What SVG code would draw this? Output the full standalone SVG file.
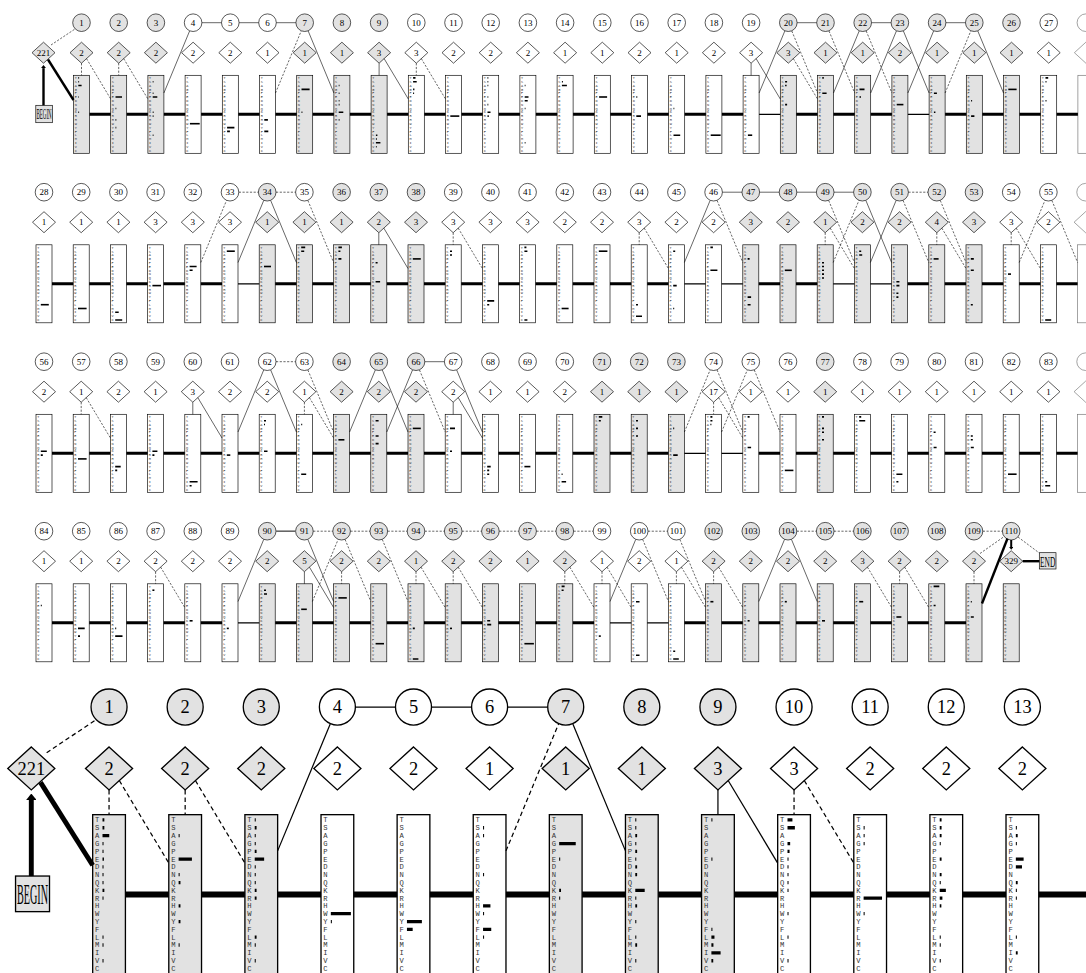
<svg xmlns="http://www.w3.org/2000/svg" width="1086" height="973" viewBox="0 0 1086 973">
<style>
.w{fill:#fff;stroke:#000;stroke-width:.65}
.g{fill:#e2e2e2;stroke:#000;stroke-width:.65}
.n{font-family:"Liberation Serif",serif;font-size:9px;text-anchor:middle;fill:#000}
.lb{font-family:"Liberation Serif",serif;font-size:14px;text-anchor:middle;fill:#000}
.aa{font-family:"Liberation Mono",monospace;font-size:3.5px;fill:#333;writing-mode:vertical-lr;text-orientation:upright}
.br{stroke:#000;stroke-width:1.6;fill:none}
.mm{stroke:#000;stroke-width:3;fill:none}
.mt{stroke:#000;stroke-width:1.3;fill:none}
.s{stroke:#000;stroke-width:.6;fill:none}
.d{stroke:#000;stroke-width:.6;fill:none;stroke-dasharray:2.2 1.5}
.tk{stroke:#000;stroke-width:2.4;fill:none}
.fade{opacity:.55}
</style>
<defs>
<marker id="ah" viewBox="0 0 10 10" refX="0" refY="5" markerWidth="1.3" markerHeight="2.1" orient="auto" preserveAspectRatio="none"><path d="M0 0 10 5 0 10Z"/></marker>
</defs>
<rect width="1086" height="973" fill="#fff"/>
<g id="nodes">
<g id="row1">
<g id="BEGIN"><rect class="g" x="35.8" y="105.3" width="16.6" height="17.4"/><text class="lb" x="44.1" y="119" textLength="15.2" lengthAdjust="spacingAndGlyphs">BEGIN</text></g>
<g id="I0"><path class="g" d="M43.5 42.2 55 52.7 43.5 63.2 32 52.7Z"/><text class="n" x="43.5" y="55.8">221</text></g>
<g transform="translate(81.5)"><g id="D1"><circle class="g" cy="22.7" r="8.8"/><text class="n" y="25.8">1</text></g><g id="I1"><path class="g" d="M0 42.2 11.5 52.7 0 63.2-11.5 52.7Z"/><text class="n" y="55.8">2</text></g><g id="M1"><rect class="g" x="-8" y="75.3" width="16" height="78"/><text class="aa" x="-5.8" y="76.2" textLength="76.4">TSAGPEDNQKRHWYFLMIVC</text><path class="br" d="M-3.2 77.9h.8M-3.2 81.7h.8M-3.2 85.5h3.3M-3.2 97h.6M-3.2 112.3h.8"/></g></g>
<g transform="translate(118.7)"><g id="D2"><circle class="g" cy="22.7" r="8.8"/><text class="n" y="25.8">2</text></g><g id="I2"><path class="g" d="M0 42.2 11.5 52.7 0 63.2-11.5 52.7Z"/><text class="n" y="55.8">2</text></g><g id="M2"><rect class="g" x="-8" y="75.3" width="16" height="78"/><text class="aa" x="-5.8" y="76.2" textLength="76.4">TSAGPEDNQKRHWYFLMIVC</text><path class="br" d="M-3.2 97h6.5M-3.2 108.5h.8M-3.2 119.9h.8M-3.2 127.6h.8"/></g></g>
<g transform="translate(155.9)"><g id="D3"><circle class="g" cy="22.7" r="8.8"/><text class="n" y="25.8">3</text></g><g id="I3"><path class="g" d="M0 42.2 11.5 52.7 0 63.2-11.5 52.7Z"/><text class="n" y="55.8">2</text></g><g id="M3"><rect class="g" x="-8" y="75.3" width="16" height="78"/><text class="aa" x="-5.8" y="76.2" textLength="76.4">TSAGPEDNQKRHWYFLMIVC</text><path class="br" d="M-3.2 81.7h.8M-3.2 93.2h.8M-3.2 97h4.6M-3.2 112.3h.9M-3.2 116.1h.8M-3.2 135.2h.8"/></g></g>
<g transform="translate(193.1)"><g id="D4"><circle class="w" cy="22.7" r="8.8"/><text class="n" y="25.8">4</text></g><g id="I4"><path class="w" d="M0 42.2 11.5 52.7 0 63.2-11.5 52.7Z"/><text class="n" y="55.8">2</text></g><g id="M4"><rect class="w" x="-8" y="75.3" width="16" height="78"/><text class="aa" x="-5.8" y="76.2" textLength="76.4">TSAGPEDNQKRHWYFLMIVC</text><path class="br" d="M-3.2 123.7h9.8"/></g></g>
<g transform="translate(230.3)"><g id="D5"><circle class="w" cy="22.7" r="8.8"/><text class="n" y="25.8">5</text></g><g id="I5"><path class="w" d="M0 42.2 11.5 52.7 0 63.2-11.5 52.7Z"/><text class="n" y="55.8">2</text></g><g id="M5"><rect class="w" x="-8" y="75.3" width="16" height="78"/><text class="aa" x="-5.8" y="76.2" textLength="76.4">TSAGPEDNQKRHWYFLMIVC</text><path class="br" d="M-3.2 127.6h7.3M-3.2 131.4h2.8"/></g></g>
<g transform="translate(267.5)"><g id="D6"><circle class="w" cy="22.7" r="8.8"/><text class="n" y="25.8">6</text></g><g id="I6"><path class="w" d="M0 42.2 11.5 52.7 0 63.2-11.5 52.7Z"/><text class="n" y="55.8">1</text></g><g id="M6"><rect class="w" x="-8" y="75.3" width="16" height="78"/><text class="aa" x="-5.8" y="76.2" textLength="76.4">TSAGPEDNQKRHWYFLMIVC</text><path class="br" d="M-3.2 119.9h3.6M-3.2 131.4h4"/></g></g>
<g transform="translate(304.7)"><g id="D7"><circle class="g" cy="22.7" r="8.8"/><text class="n" y="25.8">7</text></g><g id="I7"><path class="g" d="M0 42.2 11.5 52.7 0 63.2-11.5 52.7Z"/><text class="n" y="55.8">1</text></g><g id="M7"><rect class="g" x="-8" y="75.3" width="16" height="78"/><text class="aa" x="-5.8" y="76.2" textLength="76.4">TSAGPEDNQKRHWYFLMIVC</text><path class="br" d="M-3.2 89.4h8.1M-3.2 112.3h.9"/></g></g>
<g transform="translate(341.9)"><g id="D8"><circle class="g" cy="22.7" r="8.8"/><text class="n" y="25.8">8</text></g><g id="I8"><path class="g" d="M0 42.2 11.5 52.7 0 63.2-11.5 52.7Z"/><text class="n" y="55.8">1</text></g><g id="M8"><rect class="g" x="-8" y="75.3" width="16" height="78"/><text class="aa" x="-5.8" y="76.2" textLength="76.4">TSAGPEDNQKRHWYFLMIVC</text><path class="br" d="M-3.2 85.5h.8M-3.2 93.2h.8M-3.2 100.8h.8M-3.2 104.6h.8M-3.2 112.3h4.6M-3.2 119.9h.8"/></g></g>
<g transform="translate(379.1)"><g id="D9"><circle class="g" cy="22.7" r="8.8"/><text class="n" y="25.8">9</text></g><g id="I9"><path class="g" d="M0 42.2 11.5 52.7 0 63.2-11.5 52.7Z"/><text class="n" y="55.8">3</text></g><g id="M9"><rect class="g" x="-8" y="75.3" width="16" height="78"/><text class="aa" x="-5.8" y="76.2" textLength="76.4">TSAGPEDNQKRHWYFLMIVC</text><path class="br" d="M-3.2 135.2h1.5M-3.2 139h1M-3.2 142.8h4.5M-3.2 146.7h.8"/></g></g>
<g transform="translate(416.3)"><g id="D10"><circle class="w" cy="22.7" r="8.8"/><text class="n" y="25.8">10</text></g><g id="I10"><path class="w" d="M0 42.2 11.5 52.7 0 63.2-11.5 52.7Z"/><text class="n" y="55.8">3</text></g><g id="M10"><rect class="w" x="-8" y="75.3" width="16" height="78"/><text class="aa" x="-5.8" y="76.2" textLength="76.4">TSAGPEDNQKRHWYFLMIVC</text><path class="br" d="M-3.2 77.9h2.4M-3.2 81.7h3.6M-3.2 89.4h1.3M-3.2 93.2h1"/></g></g>
<g transform="translate(453.5)"><g id="D11"><circle class="w" cy="22.7" r="8.8"/><text class="n" y="25.8">11</text></g><g id="I11"><path class="w" d="M0 42.2 11.5 52.7 0 63.2-11.5 52.7Z"/><text class="n" y="55.8">2</text></g><g id="M11"><rect class="w" x="-8" y="75.3" width="16" height="78"/><text class="aa" x="-5.8" y="76.2" textLength="76.4">TSAGPEDNQKRHWYFLMIVC</text><path class="br" d="M-3.2 116.1h9"/></g></g>
<g transform="translate(490.7)"><g id="D12"><circle class="w" cy="22.7" r="8.8"/><text class="n" y="25.8">12</text></g><g id="I12"><path class="w" d="M0 42.2 11.5 52.7 0 63.2-11.5 52.7Z"/><text class="n" y="55.8">2</text></g><g id="M12"><rect class="w" x="-8" y="75.3" width="16" height="78"/><text class="aa" x="-5.8" y="76.2" textLength="76.4">TSAGPEDNQKRHWYFLMIVC</text><path class="br" d="M-3.2 77.9h.8M-3.2 81.7h.8M-3.2 85.5h.8M-3.2 97h.8M-3.2 104.6h.8M-3.2 112.3h3M-3.2 116.1h1.3"/></g></g>
<g transform="translate(527.9)"><g id="D13"><circle class="w" cy="22.7" r="8.8"/><text class="n" y="25.8">13</text></g><g id="I13"><path class="w" d="M0 42.2 11.5 52.7 0 63.2-11.5 52.7Z"/><text class="n" y="55.8">2</text></g><g id="M13"><rect class="w" x="-8" y="75.3" width="16" height="78"/><text class="aa" x="-5.8" y="76.2" textLength="76.4">TSAGPEDNQKRHWYFLMIVC</text><path class="br" d="M-3.2 85.5h.8M-3.2 97h3.8M-3.2 100.8h3M-3.2 108.5h.8M-3.2 142.8h.8"/></g></g>
<g transform="translate(565.1)"><g id="D14"><circle class="w" cy="22.7" r="8.8"/><text class="n" y="25.8">14</text></g><g id="I14"><path class="w" d="M0 42.2 11.5 52.7 0 63.2-11.5 52.7Z"/><text class="n" y="55.8">1</text></g><g id="M14"><rect class="w" x="-8" y="75.3" width="16" height="78"/><text class="aa" x="-5.8" y="76.2" textLength="76.4">TSAGPEDNQKRHWYFLMIVC</text><path class="br" d="M-3.2 81.7h1M-3.2 85.5h5"/></g></g>
<g transform="translate(602.3)"><g id="D15"><circle class="w" cy="22.7" r="8.8"/><text class="n" y="25.8">15</text></g><g id="I15"><path class="w" d="M0 42.2 11.5 52.7 0 63.2-11.5 52.7Z"/><text class="n" y="55.8">1</text></g><g id="M15"><rect class="w" x="-8" y="75.3" width="16" height="78"/><text class="aa" x="-5.8" y="76.2" textLength="76.4">TSAGPEDNQKRHWYFLMIVC</text><path class="br" d="M-3.2 97h8"/></g></g>
<g transform="translate(639.5)"><g id="D16"><circle class="w" cy="22.7" r="8.8"/><text class="n" y="25.8">16</text></g><g id="I16"><path class="w" d="M0 42.2 11.5 52.7 0 63.2-11.5 52.7Z"/><text class="n" y="55.8">2</text></g><g id="M16"><rect class="w" x="-8" y="75.3" width="16" height="78"/><text class="aa" x="-5.8" y="76.2" textLength="76.4">TSAGPEDNQKRHWYFLMIVC</text><path class="br" d="M-3.2 97h1M-3.2 116.1h4.7"/></g></g>
<g transform="translate(676.7)"><g id="D17"><circle class="w" cy="22.7" r="8.8"/><text class="n" y="25.8">17</text></g><g id="I17"><path class="w" d="M0 42.2 11.5 52.7 0 63.2-11.5 52.7Z"/><text class="n" y="55.8">1</text></g><g id="M17"><rect class="w" x="-8" y="75.3" width="16" height="78"/><text class="aa" x="-5.8" y="76.2" textLength="76.4">TSAGPEDNQKRHWYFLMIVC</text><path class="br" d="M-3.2 108.5h.8M-3.2 135.2h6.7"/></g></g>
<g transform="translate(713.9)"><g id="D18"><circle class="w" cy="22.7" r="8.8"/><text class="n" y="25.8">18</text></g><g id="I18"><path class="w" d="M0 42.2 11.5 52.7 0 63.2-11.5 52.7Z"/><text class="n" y="55.8">2</text></g><g id="M18"><rect class="w" x="-8" y="75.3" width="16" height="78"/><text class="aa" x="-5.8" y="76.2" textLength="76.4">TSAGPEDNQKRHWYFLMIVC</text><path class="br" d="M-3.2 135.2h10"/></g></g>
<g transform="translate(751.1)"><g id="D19"><circle class="w" cy="22.7" r="8.8"/><text class="n" y="25.8">19</text></g><g id="I19"><path class="w" d="M0 42.2 11.5 52.7 0 63.2-11.5 52.7Z"/><text class="n" y="55.8">3</text></g><g id="M19"><rect class="w" x="-8" y="75.3" width="16" height="78"/><text class="aa" x="-5.8" y="76.2" textLength="76.4">TSAGPEDNQKRHWYFLMIVC</text><path class="br" d="M-3.2 135.2h4.3"/></g></g>
<g transform="translate(788.3)"><g id="D20"><circle class="g" cy="22.7" r="8.8"/><text class="n" y="25.8">20</text></g><g id="I20"><path class="g" d="M0 42.2 11.5 52.7 0 63.2-11.5 52.7Z"/><text class="n" y="55.8">3</text></g><g id="M20"><rect class="g" x="-8" y="75.3" width="16" height="78"/><text class="aa" x="-5.8" y="76.2" textLength="76.4">TSAGPEDNQKRHWYFLMIVC</text><path class="br" d="M-3.2 81.7h2M-3.2 85.5h1.5M-3.2 104.6h2"/></g></g>
<g transform="translate(825.5)"><g id="D21"><circle class="g" cy="22.7" r="8.8"/><text class="n" y="25.8">21</text></g><g id="I21"><path class="g" d="M0 42.2 11.5 52.7 0 63.2-11.5 52.7Z"/><text class="n" y="55.8">1</text></g><g id="M21"><rect class="g" x="-8" y="75.3" width="16" height="78"/><text class="aa" x="-5.8" y="76.2" textLength="76.4">TSAGPEDNQKRHWYFLMIVC</text><path class="br" d="M-3.2 77.9h1.5M-3.2 93.2h4.3"/></g></g>
<g transform="translate(862.7)"><g id="D22"><circle class="g" cy="22.7" r="8.8"/><text class="n" y="25.8">22</text></g><g id="I22"><path class="g" d="M0 42.2 11.5 52.7 0 63.2-11.5 52.7Z"/><text class="n" y="55.8">1</text></g><g id="M22"><rect class="g" x="-8" y="75.3" width="16" height="78"/><text class="aa" x="-5.8" y="76.2" textLength="76.4">TSAGPEDNQKRHWYFLMIVC</text><path class="br" d="M-3.2 89.4h5M-3.2 97h1.5"/></g></g>
<g transform="translate(899.9)"><g id="D23"><circle class="g" cy="22.7" r="8.8"/><text class="n" y="25.8">23</text></g><g id="I23"><path class="g" d="M0 42.2 11.5 52.7 0 63.2-11.5 52.7Z"/><text class="n" y="55.8">2</text></g><g id="M23"><rect class="g" x="-8" y="75.3" width="16" height="78"/><text class="aa" x="-5.8" y="76.2" textLength="76.4">TSAGPEDNQKRHWYFLMIVC</text><path class="br" d="M-3.2 104.6h6.7"/></g></g>
<g transform="translate(937.1)"><g id="D24"><circle class="g" cy="22.7" r="8.8"/><text class="n" y="25.8">24</text></g><g id="I24"><path class="g" d="M0 42.2 11.5 52.7 0 63.2-11.5 52.7Z"/><text class="n" y="55.8">1</text></g><g id="M24"><rect class="g" x="-8" y="75.3" width="16" height="78"/><text class="aa" x="-5.8" y="76.2" textLength="76.4">TSAGPEDNQKRHWYFLMIVC</text><path class="br" d="M-3.2 93.2h3M-3.2 112.3h1.5"/></g></g>
<g transform="translate(974.3)"><g id="D25"><circle class="g" cy="22.7" r="8.8"/><text class="n" y="25.8">25</text></g><g id="I25"><path class="g" d="M0 42.2 11.5 52.7 0 63.2-11.5 52.7Z"/><text class="n" y="55.8">1</text></g><g id="M25"><rect class="g" x="-8" y="75.3" width="16" height="78"/><text class="aa" x="-5.8" y="76.2" textLength="76.4">TSAGPEDNQKRHWYFLMIVC</text><path class="br" d="M-3.2 100.8h1M-3.2 116.1h3.3"/></g></g>
<g transform="translate(1011.5)"><g id="D26"><circle class="g" cy="22.7" r="8.8"/><text class="n" y="25.8">26</text></g><g id="I26"><path class="g" d="M0 42.2 11.5 52.7 0 63.2-11.5 52.7Z"/><text class="n" y="55.8">1</text></g><g id="M26"><rect class="g" x="-8" y="75.3" width="16" height="78"/><text class="aa" x="-5.8" y="76.2" textLength="76.4">TSAGPEDNQKRHWYFLMIVC</text><path class="br" d="M-3.2 89.4h8.3"/></g></g>
<g transform="translate(1048.7)"><g id="D27"><circle class="w" cy="22.7" r="8.8"/><text class="n" y="25.8">27</text></g><g id="I27"><path class="w" d="M0 42.2 11.5 52.7 0 63.2-11.5 52.7Z"/><text class="n" y="55.8">1</text></g><g id="M27"><rect class="w" x="-8" y="75.3" width="16" height="78"/><text class="aa" x="-5.8" y="76.2" textLength="76.4">TSAGPEDNQKRHWYFLMIVC</text><path class="br" d="M-3.2 77.9h2.7M-3.2 81.7h1M-3.2 100.8h1"/></g></g>
<g class="fade" transform="translate(1085.9)"><g id="D28a"><circle class="w" cy="22.7" r="8.8"/></g><g id="I28a"><path class="w" d="M0 42.2 11.5 52.7 0 63.2-11.5 52.7Z"/></g><g id="M28a"><rect class="w" x="-8" y="75.3" width="16" height="78"/></g></g>
</g>
<g id="row2" transform="translate(0,169.5)">
<g transform="translate(44)"><g id="D28"><circle class="w" cy="22.7" r="8.8"/><text class="n" y="25.8">28</text></g><g id="I28"><path class="w" d="M0 42.2 11.5 52.7 0 63.2-11.5 52.7Z"/><text class="n" y="55.8">1</text></g><g id="M28"><rect class="w" x="-8" y="75.3" width="16" height="78"/><text class="aa" x="-5.8" y="76.2" textLength="76.4">TSAGPEDNQKRHWYFLMIVC</text><path class="br" d="M-3.2 135.2h8"/></g></g>
<g transform="translate(81.2)"><g id="D29"><circle class="w" cy="22.7" r="8.8"/><text class="n" y="25.8">29</text></g><g id="I29"><path class="w" d="M0 42.2 11.5 52.7 0 63.2-11.5 52.7Z"/><text class="n" y="55.8">1</text></g><g id="M29"><rect class="w" x="-8" y="75.3" width="16" height="78"/><text class="aa" x="-5.8" y="76.2" textLength="76.4">TSAGPEDNQKRHWYFLMIVC</text><path class="br" d="M-3.2 139h8.6"/></g></g>
<g transform="translate(118.4)"><g id="D30"><circle class="w" cy="22.7" r="8.8"/><text class="n" y="25.8">30</text></g><g id="I30"><path class="w" d="M0 42.2 11.5 52.7 0 63.2-11.5 52.7Z"/><text class="n" y="55.8">1</text></g><g id="M30"><rect class="w" x="-8" y="75.3" width="16" height="78"/><text class="aa" x="-5.8" y="76.2" textLength="76.4">TSAGPEDNQKRHWYFLMIVC</text><path class="br" d="M-3.2 142.8h3.5M-3.2 150.5h7"/></g></g>
<g transform="translate(155.6)"><g id="D31"><circle class="w" cy="22.7" r="8.8"/><text class="n" y="25.8">31</text></g><g id="I31"><path class="w" d="M0 42.2 11.5 52.7 0 63.2-11.5 52.7Z"/><text class="n" y="55.8">3</text></g><g id="M31"><rect class="w" x="-8" y="75.3" width="16" height="78"/><text class="aa" x="-5.8" y="76.2" textLength="76.4">TSAGPEDNQKRHWYFLMIVC</text><path class="br" d="M-3.2 116.1h8.6"/></g></g>
<g transform="translate(192.8)"><g id="D32"><circle class="w" cy="22.7" r="8.8"/><text class="n" y="25.8">32</text></g><g id="I32"><path class="w" d="M0 42.2 11.5 52.7 0 63.2-11.5 52.7Z"/><text class="n" y="55.8">3</text></g><g id="M32"><rect class="w" x="-8" y="75.3" width="16" height="78"/><text class="aa" x="-5.8" y="76.2" textLength="76.4">TSAGPEDNQKRHWYFLMIVC</text><path class="br" d="M-3.2 97h7M-3.2 100.8h3"/></g></g>
<g transform="translate(230)"><g id="D33"><circle class="w" cy="22.7" r="8.8"/><text class="n" y="25.8">33</text></g><g id="I33"><path class="w" d="M0 42.2 11.5 52.7 0 63.2-11.5 52.7Z"/><text class="n" y="55.8">3</text></g><g id="M33"><rect class="w" x="-8" y="75.3" width="16" height="78"/><text class="aa" x="-5.8" y="76.2" textLength="76.4">TSAGPEDNQKRHWYFLMIVC</text><path class="br" d="M-3.2 81.7h8"/></g></g>
<g transform="translate(267.2)"><g id="D34"><circle class="g" cy="22.7" r="8.8"/><text class="n" y="25.8">34</text></g><g id="I34"><path class="g" d="M0 42.2 11.5 52.7 0 63.2-11.5 52.7Z"/><text class="n" y="55.8">1</text></g><g id="M34"><rect class="g" x="-8" y="75.3" width="16" height="78"/><text class="aa" x="-5.8" y="76.2" textLength="76.4">TSAGPEDNQKRHWYFLMIVC</text><path class="br" d="M-3.2 97h7"/></g></g>
<g transform="translate(304.4)"><g id="D35"><circle class="w" cy="22.7" r="8.8"/><text class="n" y="25.8">35</text></g><g id="I35"><path class="g" d="M0 42.2 11.5 52.7 0 63.2-11.5 52.7Z"/><text class="n" y="55.8">1</text></g><g id="M35"><rect class="g" x="-8" y="75.3" width="16" height="78"/><text class="aa" x="-5.8" y="76.2" textLength="76.4">TSAGPEDNQKRHWYFLMIVC</text><path class="br" d="M-3.2 77.9h4M-3.2 81.7h3"/></g></g>
<g transform="translate(341.6)"><g id="D36"><circle class="g" cy="22.7" r="8.8"/><text class="n" y="25.8">36</text></g><g id="I36"><path class="g" d="M0 42.2 11.5 52.7 0 63.2-11.5 52.7Z"/><text class="n" y="55.8">1</text></g><g id="M36"><rect class="g" x="-8" y="75.3" width="16" height="78"/><text class="aa" x="-5.8" y="76.2" textLength="76.4">TSAGPEDNQKRHWYFLMIVC</text><path class="br" d="M-3.2 77.9h3.5M-3.2 81.7h2M-3.2 89.4h3"/></g></g>
<g transform="translate(378.8)"><g id="D37"><circle class="g" cy="22.7" r="8.8"/><text class="n" y="25.8">37</text></g><g id="I37"><path class="g" d="M0 42.2 11.5 52.7 0 63.2-11.5 52.7Z"/><text class="n" y="55.8">2</text></g><g id="M37"><rect class="g" x="-8" y="75.3" width="16" height="78"/><text class="aa" x="-5.8" y="76.2" textLength="76.4">TSAGPEDNQKRHWYFLMIVC</text><path class="br" d="M-3.2 93.2h2M-3.2 112.3h4.5"/></g></g>
<g transform="translate(416)"><g id="D38"><circle class="g" cy="22.7" r="8.8"/><text class="n" y="25.8">38</text></g><g id="I38"><path class="g" d="M0 42.2 11.5 52.7 0 63.2-11.5 52.7Z"/><text class="n" y="55.8">3</text></g><g id="M38"><rect class="g" x="-8" y="75.3" width="16" height="78"/><text class="aa" x="-5.8" y="76.2" textLength="76.4">TSAGPEDNQKRHWYFLMIVC</text><path class="br" d="M-3.2 89.4h8"/></g></g>
<g transform="translate(453.2)"><g id="D39"><circle class="w" cy="22.7" r="8.8"/><text class="n" y="25.8">39</text></g><g id="I39"><path class="w" d="M0 42.2 11.5 52.7 0 63.2-11.5 52.7Z"/><text class="n" y="55.8">3</text></g><g id="M39"><rect class="w" x="-8" y="75.3" width="16" height="78"/><text class="aa" x="-5.8" y="76.2" textLength="76.4">TSAGPEDNQKRHWYFLMIVC</text><path class="br" d="M-3.2 81.7h2M-3.2 85.5h2"/></g></g>
<g transform="translate(490.4)"><g id="D40"><circle class="w" cy="22.7" r="8.8"/><text class="n" y="25.8">40</text></g><g id="I40"><path class="w" d="M0 42.2 11.5 52.7 0 63.2-11.5 52.7Z"/><text class="n" y="55.8">3</text></g><g id="M40"><rect class="w" x="-8" y="75.3" width="16" height="78"/><text class="aa" x="-5.8" y="76.2" textLength="76.4">TSAGPEDNQKRHWYFLMIVC</text><path class="br" d="M-3.2 131.4h7M-3.2 135.2h2"/></g></g>
<g transform="translate(527.6)"><g id="D41"><circle class="w" cy="22.7" r="8.8"/><text class="n" y="25.8">41</text></g><g id="I41"><path class="w" d="M0 42.2 11.5 52.7 0 63.2-11.5 52.7Z"/><text class="n" y="55.8">3</text></g><g id="M41"><rect class="w" x="-8" y="75.3" width="16" height="78"/><text class="aa" x="-5.8" y="76.2" textLength="76.4">TSAGPEDNQKRHWYFLMIVC</text><path class="br" d="M-3.2 77.9h2M-3.2 81.7h3M-3.2 150.5h3"/></g></g>
<g transform="translate(564.8)"><g id="D42"><circle class="w" cy="22.7" r="8.8"/><text class="n" y="25.8">42</text></g><g id="I42"><path class="w" d="M0 42.2 11.5 52.7 0 63.2-11.5 52.7Z"/><text class="n" y="55.8">2</text></g><g id="M42"><rect class="w" x="-8" y="75.3" width="16" height="78"/><text class="aa" x="-5.8" y="76.2" textLength="76.4">TSAGPEDNQKRHWYFLMIVC</text><path class="br" d="M-3.2 139h7"/></g></g>
<g transform="translate(602)"><g id="D43"><circle class="w" cy="22.7" r="8.8"/><text class="n" y="25.8">43</text></g><g id="I43"><path class="w" d="M0 42.2 11.5 52.7 0 63.2-11.5 52.7Z"/><text class="n" y="55.8">2</text></g><g id="M43"><rect class="w" x="-8" y="75.3" width="16" height="78"/><text class="aa" x="-5.8" y="76.2" textLength="76.4">TSAGPEDNQKRHWYFLMIVC</text><path class="br" d="M-3.2 81.7h8.6"/></g></g>
<g transform="translate(639.2)"><g id="D44"><circle class="w" cy="22.7" r="8.8"/><text class="n" y="25.8">44</text></g><g id="I44"><path class="w" d="M0 42.2 11.5 52.7 0 63.2-11.5 52.7Z"/><text class="n" y="55.8">3</text></g><g id="M44"><rect class="w" x="-8" y="75.3" width="16" height="78"/><text class="aa" x="-5.8" y="76.2" textLength="76.4">TSAGPEDNQKRHWYFLMIVC</text><path class="br" d="M-3.2 135.2h2M-3.2 146.7h6"/></g></g>
<g transform="translate(676.4)"><g id="D45"><circle class="w" cy="22.7" r="8.8"/><text class="n" y="25.8">45</text></g><g id="I45"><path class="w" d="M0 42.2 11.5 52.7 0 63.2-11.5 52.7Z"/><text class="n" y="55.8">2</text></g><g id="M45"><rect class="w" x="-8" y="75.3" width="16" height="78"/><text class="aa" x="-5.8" y="76.2" textLength="76.4">TSAGPEDNQKRHWYFLMIVC</text><path class="br" d="M-3.2 81.7h2M-3.2 116.1h3.5M-3.2 139h1"/></g></g>
<g transform="translate(713.6)"><g id="D46"><circle class="w" cy="22.7" r="8.8"/><text class="n" y="25.8">46</text></g><g id="I46"><path class="w" d="M0 42.2 11.5 52.7 0 63.2-11.5 52.7Z"/><text class="n" y="55.8">2</text></g><g id="M46"><rect class="w" x="-8" y="75.3" width="16" height="78"/><text class="aa" x="-5.8" y="76.2" textLength="76.4">TSAGPEDNQKRHWYFLMIVC</text><path class="br" d="M-3.2 77.9h2.5M-3.2 100.8h7"/></g></g>
<g transform="translate(750.8)"><g id="D47"><circle class="g" cy="22.7" r="8.8"/><text class="n" y="25.8">47</text></g><g id="I47"><path class="g" d="M0 42.2 11.5 52.7 0 63.2-11.5 52.7Z"/><text class="n" y="55.8">3</text></g><g id="M47"><rect class="g" x="-8" y="75.3" width="16" height="78"/><text class="aa" x="-5.8" y="76.2" textLength="76.4">TSAGPEDNQKRHWYFLMIVC</text><path class="br" d="M-3.2 89.4h2M-3.2 127.6h3.5M-3.2 135.2h3"/></g></g>
<g transform="translate(788)"><g id="D48"><circle class="g" cy="22.7" r="8.8"/><text class="n" y="25.8">48</text></g><g id="I48"><path class="g" d="M0 42.2 11.5 52.7 0 63.2-11.5 52.7Z"/><text class="n" y="55.8">2</text></g><g id="M48"><rect class="g" x="-8" y="75.3" width="16" height="78"/><text class="aa" x="-5.8" y="76.2" textLength="76.4">TSAGPEDNQKRHWYFLMIVC</text><path class="br" d="M-3.2 100.8h7"/></g></g>
<g transform="translate(825.2)"><g id="D49"><circle class="g" cy="22.7" r="8.8"/><text class="n" y="25.8">49</text></g><g id="I49"><path class="g" d="M0 42.2 11.5 52.7 0 63.2-11.5 52.7Z"/><text class="n" y="55.8">1</text></g><g id="M49"><rect class="g" x="-8" y="75.3" width="16" height="78"/><text class="aa" x="-5.8" y="76.2" textLength="76.4">TSAGPEDNQKRHWYFLMIVC</text><path class="br" d="M-3.2 93.2h2M-3.2 97h2M-3.2 100.8h2M-3.2 104.6h2M-3.2 108.5h2"/></g></g>
<g transform="translate(862.4)"><g id="D50"><circle class="g" cy="22.7" r="8.8"/><text class="n" y="25.8">50</text></g><g id="I50"><path class="g" d="M0 42.2 11.5 52.7 0 63.2-11.5 52.7Z"/><text class="n" y="55.8">2</text></g><g id="M50"><rect class="g" x="-8" y="75.3" width="16" height="78"/><text class="aa" x="-5.8" y="76.2" textLength="76.4">TSAGPEDNQKRHWYFLMIVC</text><path class="br" d="M-3.2 81.7h2M-3.2 85.5h3"/></g></g>
<g transform="translate(899.6)"><g id="D51"><circle class="g" cy="22.7" r="8.8"/><text class="n" y="25.8">51</text></g><g id="I51"><path class="g" d="M0 42.2 11.5 52.7 0 63.2-11.5 52.7Z"/><text class="n" y="55.8">2</text></g><g id="M51"><rect class="g" x="-8" y="75.3" width="16" height="78"/><text class="aa" x="-5.8" y="76.2" textLength="76.4">TSAGPEDNQKRHWYFLMIVC</text><path class="br" d="M-3.2 112.3h3M-3.2 116.1h3M-3.2 123.7h2M-3.2 127.6h2"/></g></g>
<g transform="translate(936.8)"><g id="D52"><circle class="g" cy="22.7" r="8.8"/><text class="n" y="25.8">52</text></g><g id="I52"><path class="g" d="M0 42.2 11.5 52.7 0 63.2-11.5 52.7Z"/><text class="n" y="55.8">4</text></g><g id="M52"><rect class="g" x="-8" y="75.3" width="16" height="78"/><text class="aa" x="-5.8" y="76.2" textLength="76.4">TSAGPEDNQKRHWYFLMIVC</text><path class="br" d="M-3.2 89.4h5"/></g></g>
<g transform="translate(974)"><g id="D53"><circle class="g" cy="22.7" r="8.8"/><text class="n" y="25.8">53</text></g><g id="I53"><path class="g" d="M0 42.2 11.5 52.7 0 63.2-11.5 52.7Z"/><text class="n" y="55.8">3</text></g><g id="M53"><rect class="g" x="-8" y="75.3" width="16" height="78"/><text class="aa" x="-5.8" y="76.2" textLength="76.4">TSAGPEDNQKRHWYFLMIVC</text><path class="br" d="M-3.2 89.4h3M-3.2 100.8h3M-3.2 135.2h2"/></g></g>
<g transform="translate(1011.2)"><g id="D54"><circle class="w" cy="22.7" r="8.8"/><text class="n" y="25.8">54</text></g><g id="I54"><path class="w" d="M0 42.2 11.5 52.7 0 63.2-11.5 52.7Z"/><text class="n" y="55.8">3</text></g><g id="M54"><rect class="w" x="-8" y="75.3" width="16" height="78"/><text class="aa" x="-5.8" y="76.2" textLength="76.4">TSAGPEDNQKRHWYFLMIVC</text><path class="br" d="M-3.2 104.6h3"/></g></g>
<g transform="translate(1048.4)"><g id="D55"><circle class="w" cy="22.7" r="8.8"/><text class="n" y="25.8">55</text></g><g id="I55"><path class="w" d="M0 42.2 11.5 52.7 0 63.2-11.5 52.7Z"/><text class="n" y="55.8">2</text></g><g id="M55"><rect class="w" x="-8" y="75.3" width="16" height="78"/><text class="aa" x="-5.8" y="76.2" textLength="76.4">TSAGPEDNQKRHWYFLMIVC</text><path class="br" d="M-3.2 150.5h6"/></g></g>
<g class="fade" transform="translate(1085.6)"><g id="D56a"><circle class="w" cy="22.7" r="8.8"/></g><g id="I56a"><path class="w" d="M0 42.2 11.5 52.7 0 63.2-11.5 52.7Z"/></g><g id="M56a"><rect class="w" x="-8" y="75.3" width="16" height="78"/></g></g>
</g>
<g id="row3" transform="translate(0,339)">
<g transform="translate(44)"><g id="D56"><circle class="w" cy="22.7" r="8.8"/><text class="n" y="25.8">56</text></g><g id="I56"><path class="w" d="M0 42.2 11.5 52.7 0 63.2-11.5 52.7Z"/><text class="n" y="55.8">2</text></g><g id="M56"><rect class="w" x="-8" y="75.3" width="16" height="78"/><text class="aa" x="-5.8" y="76.2" textLength="76.4">TSAGPEDNQKRHWYFLMIVC</text><path class="br" d="M-3.2 112.3h6M-3.2 116.1h2"/></g></g>
<g transform="translate(81.2)"><g id="D57"><circle class="w" cy="22.7" r="8.8"/><text class="n" y="25.8">57</text></g><g id="I57"><path class="w" d="M0 42.2 11.5 52.7 0 63.2-11.5 52.7Z"/><text class="n" y="55.8">1</text></g><g id="M57"><rect class="w" x="-8" y="75.3" width="16" height="78"/><text class="aa" x="-5.8" y="76.2" textLength="76.4">TSAGPEDNQKRHWYFLMIVC</text><path class="br" d="M-3.2 119.9h8.6"/></g></g>
<g transform="translate(118.4)"><g id="D58"><circle class="w" cy="22.7" r="8.8"/><text class="n" y="25.8">58</text></g><g id="I58"><path class="w" d="M0 42.2 11.5 52.7 0 63.2-11.5 52.7Z"/><text class="n" y="55.8">2</text></g><g id="M58"><rect class="w" x="-8" y="75.3" width="16" height="78"/><text class="aa" x="-5.8" y="76.2" textLength="76.4">TSAGPEDNQKRHWYFLMIVC</text><path class="br" d="M-3.2 127.6h5.5M-3.2 131.4h2"/></g></g>
<g transform="translate(155.6)"><g id="D59"><circle class="w" cy="22.7" r="8.8"/><text class="n" y="25.8">59</text></g><g id="I59"><path class="w" d="M0 42.2 11.5 52.7 0 63.2-11.5 52.7Z"/><text class="n" y="55.8">1</text></g><g id="M59"><rect class="w" x="-8" y="75.3" width="16" height="78"/><text class="aa" x="-5.8" y="76.2" textLength="76.4">TSAGPEDNQKRHWYFLMIVC</text><path class="br" d="M-3.2 112.3h5M-3.2 116.1h2"/></g></g>
<g transform="translate(192.8)"><g id="D60"><circle class="w" cy="22.7" r="8.8"/><text class="n" y="25.8">60</text></g><g id="I60"><path class="w" d="M0 42.2 11.5 52.7 0 63.2-11.5 52.7Z"/><text class="n" y="55.8">3</text></g><g id="M60"><rect class="w" x="-8" y="75.3" width="16" height="78"/><text class="aa" x="-5.8" y="76.2" textLength="76.4">TSAGPEDNQKRHWYFLMIVC</text><path class="br" d="M-3.2 142.8h8M-3.2 146.7h2"/></g></g>
<g transform="translate(230)"><g id="D61"><circle class="w" cy="22.7" r="8.8"/><text class="n" y="25.8">61</text></g><g id="I61"><path class="w" d="M0 42.2 11.5 52.7 0 63.2-11.5 52.7Z"/><text class="n" y="55.8">2</text></g><g id="M61"><rect class="w" x="-8" y="75.3" width="16" height="78"/><text class="aa" x="-5.8" y="76.2" textLength="76.4">TSAGPEDNQKRHWYFLMIVC</text><path class="br" d="M-3.2 116.1h3.5"/></g></g>
<g transform="translate(267.2)"><g id="D62"><circle class="w" cy="22.7" r="8.8"/><text class="n" y="25.8">62</text></g><g id="I62"><path class="w" d="M0 42.2 11.5 52.7 0 63.2-11.5 52.7Z"/><text class="n" y="55.8">2</text></g><g id="M62"><rect class="w" x="-8" y="75.3" width="16" height="78"/><text class="aa" x="-5.8" y="76.2" textLength="76.4">TSAGPEDNQKRHWYFLMIVC</text><path class="br" d="M-3.2 81.7h2M-3.2 85.5h1M-3.2 112.3h3.5"/></g></g>
<g transform="translate(304.4)"><g id="D63"><circle class="w" cy="22.7" r="8.8"/><text class="n" y="25.8">63</text></g><g id="I63"><path class="w" d="M0 42.2 11.5 52.7 0 63.2-11.5 52.7Z"/><text class="n" y="55.8">1</text></g><g id="M63"><rect class="w" x="-8" y="75.3" width="16" height="78"/><text class="aa" x="-5.8" y="76.2" textLength="76.4">TSAGPEDNQKRHWYFLMIVC</text><path class="br" d="M-3.2 85.5h1M-3.2 135.2h5"/></g></g>
<g transform="translate(341.6)"><g id="D64"><circle class="g" cy="22.7" r="8.8"/><text class="n" y="25.8">64</text></g><g id="I64"><path class="g" d="M0 42.2 11.5 52.7 0 63.2-11.5 52.7Z"/><text class="n" y="55.8">2</text></g><g id="M64"><rect class="g" x="-8" y="75.3" width="16" height="78"/><text class="aa" x="-5.8" y="76.2" textLength="76.4">TSAGPEDNQKRHWYFLMIVC</text><path class="br" d="M-3.2 100.8h6"/></g></g>
<g transform="translate(378.8)"><g id="D65"><circle class="g" cy="22.7" r="8.8"/><text class="n" y="25.8">65</text></g><g id="I65"><path class="g" d="M0 42.2 11.5 52.7 0 63.2-11.5 52.7Z"/><text class="n" y="55.8">2</text></g><g id="M65"><rect class="g" x="-8" y="75.3" width="16" height="78"/><text class="aa" x="-5.8" y="76.2" textLength="76.4">TSAGPEDNQKRHWYFLMIVC</text><path class="br" d="M-3.2 81.7h3M-3.2 97h3M-3.2 104.6h3"/></g></g>
<g transform="translate(416)"><g id="D66"><circle class="g" cy="22.7" r="8.8"/><text class="n" y="25.8">66</text></g><g id="I66"><path class="g" d="M0 42.2 11.5 52.7 0 63.2-11.5 52.7Z"/><text class="n" y="55.8">2</text></g><g id="M66"><rect class="g" x="-8" y="75.3" width="16" height="78"/><text class="aa" x="-5.8" y="76.2" textLength="76.4">TSAGPEDNQKRHWYFLMIVC</text><path class="br" d="M-3.2 89.4h8"/></g></g>
<g transform="translate(453.2)"><g id="D67"><circle class="w" cy="22.7" r="8.8"/><text class="n" y="25.8">67</text></g><g id="I67"><path class="w" d="M0 42.2 11.5 52.7 0 63.2-11.5 52.7Z"/><text class="n" y="55.8">2</text></g><g id="M67"><rect class="w" x="-8" y="75.3" width="16" height="78"/><text class="aa" x="-5.8" y="76.2" textLength="76.4">TSAGPEDNQKRHWYFLMIVC</text><path class="br" d="M-3.2 89.4h5M-3.2 112.3h2"/></g></g>
<g transform="translate(490.4)"><g id="D68"><circle class="w" cy="22.7" r="8.8"/><text class="n" y="25.8">68</text></g><g id="I68"><path class="w" d="M0 42.2 11.5 52.7 0 63.2-11.5 52.7Z"/><text class="n" y="55.8">1</text></g><g id="M68"><rect class="w" x="-8" y="75.3" width="16" height="78"/><text class="aa" x="-5.8" y="76.2" textLength="76.4">TSAGPEDNQKRHWYFLMIVC</text><path class="br" d="M-3.2 127.6h3.5M-3.2 131.4h2M-3.2 135.2h2"/></g></g>
<g transform="translate(527.6)"><g id="D69"><circle class="w" cy="22.7" r="8.8"/><text class="n" y="25.8">69</text></g><g id="I69"><path class="w" d="M0 42.2 11.5 52.7 0 63.2-11.5 52.7Z"/><text class="n" y="55.8">1</text></g><g id="M69"><rect class="w" x="-8" y="75.3" width="16" height="78"/><text class="aa" x="-5.8" y="76.2" textLength="76.4">TSAGPEDNQKRHWYFLMIVC</text><path class="br" d="M-3.2 127.6h6"/></g></g>
<g transform="translate(564.8)"><g id="D70"><circle class="w" cy="22.7" r="8.8"/><text class="n" y="25.8">70</text></g><g id="I70"><path class="w" d="M0 42.2 11.5 52.7 0 63.2-11.5 52.7Z"/><text class="n" y="55.8">2</text></g><g id="M70"><rect class="w" x="-8" y="75.3" width="16" height="78"/><text class="aa" x="-5.8" y="76.2" textLength="76.4">TSAGPEDNQKRHWYFLMIVC</text><path class="br" d="M-3.2 135.2h1M-3.2 142.8h4.5"/></g></g>
<g transform="translate(602)"><g id="D71"><circle class="g" cy="22.7" r="8.8"/><text class="n" y="25.8">71</text></g><g id="I71"><path class="g" d="M0 42.2 11.5 52.7 0 63.2-11.5 52.7Z"/><text class="n" y="55.8">1</text></g><g id="M71"><rect class="g" x="-8" y="75.3" width="16" height="78"/><text class="aa" x="-5.8" y="76.2" textLength="76.4">TSAGPEDNQKRHWYFLMIVC</text><path class="br" d="M-3.2 77.9h3.5M-3.2 81.7h2"/></g></g>
<g transform="translate(639.2)"><g id="D72"><circle class="g" cy="22.7" r="8.8"/><text class="n" y="25.8">72</text></g><g id="I72"><path class="g" d="M0 42.2 11.5 52.7 0 63.2-11.5 52.7Z"/><text class="n" y="55.8">1</text></g><g id="M72"><rect class="g" x="-8" y="75.3" width="16" height="78"/><text class="aa" x="-5.8" y="76.2" textLength="76.4">TSAGPEDNQKRHWYFLMIVC</text><path class="br" d="M-3.2 81.7h2M-3.2 89.4h2M-3.2 97h2"/></g></g>
<g transform="translate(676.4)"><g id="D73"><circle class="g" cy="22.7" r="8.8"/><text class="n" y="25.8">73</text></g><g id="I73"><path class="g" d="M0 42.2 11.5 52.7 0 63.2-11.5 52.7Z"/><text class="n" y="55.8">1</text></g><g id="M73"><rect class="g" x="-8" y="75.3" width="16" height="78"/><text class="aa" x="-5.8" y="76.2" textLength="76.4">TSAGPEDNQKRHWYFLMIVC</text><path class="br" d="M-3.2 89.4h1M-3.2 116.1h4.5"/></g></g>
<g transform="translate(713.6)"><g id="D74"><circle class="w" cy="22.7" r="8.8"/><text class="n" y="25.8">74</text></g><g id="I74"><path class="w" d="M0 42.2 11.5 52.7 0 63.2-11.5 52.7Z"/><text class="n" y="55.8">17</text></g><g id="M74"><rect class="w" x="-8" y="75.3" width="16" height="78"/><text class="aa" x="-5.8" y="76.2" textLength="76.4">TSAGPEDNQKRHWYFLMIVC</text><path class="br" d="M-3.2 77.9h2M-3.2 81.7h2M-3.2 85.5h1"/></g></g>
<g transform="translate(750.8)"><g id="D75"><circle class="w" cy="22.7" r="8.8"/><text class="n" y="25.8">75</text></g><g id="I75"><path class="w" d="M0 42.2 11.5 52.7 0 63.2-11.5 52.7Z"/><text class="n" y="55.8">1</text></g><g id="M75"><rect class="w" x="-8" y="75.3" width="16" height="78"/><text class="aa" x="-5.8" y="76.2" textLength="76.4">TSAGPEDNQKRHWYFLMIVC</text><path class="br" d="M-3.2 77.9h2M-3.2 108.5h3.5"/></g></g>
<g transform="translate(788)"><g id="D76"><circle class="w" cy="22.7" r="8.8"/><text class="n" y="25.8">76</text></g><g id="I76"><path class="w" d="M0 42.2 11.5 52.7 0 63.2-11.5 52.7Z"/><text class="n" y="55.8">1</text></g><g id="M76"><rect class="w" x="-8" y="75.3" width="16" height="78"/><text class="aa" x="-5.8" y="76.2" textLength="76.4">TSAGPEDNQKRHWYFLMIVC</text><path class="br" d="M-3.2 131.4h8.6"/></g></g>
<g transform="translate(825.2)"><g id="D77"><circle class="g" cy="22.7" r="8.8"/><text class="n" y="25.8">77</text></g><g id="I77"><path class="g" d="M0 42.2 11.5 52.7 0 63.2-11.5 52.7Z"/><text class="n" y="55.8">1</text></g><g id="M77"><rect class="g" x="-8" y="75.3" width="16" height="78"/><text class="aa" x="-5.8" y="76.2" textLength="76.4">TSAGPEDNQKRHWYFLMIVC</text><path class="br" d="M-3.2 77.9h2M-3.2 89.4h2M-3.2 93.2h2M-3.2 100.8h2"/></g></g>
<g transform="translate(862.4)"><g id="D78"><circle class="w" cy="22.7" r="8.8"/><text class="n" y="25.8">78</text></g><g id="I78"><path class="w" d="M0 42.2 11.5 52.7 0 63.2-11.5 52.7Z"/><text class="n" y="55.8">1</text></g><g id="M78"><rect class="w" x="-8" y="75.3" width="16" height="78"/><text class="aa" x="-5.8" y="76.2" textLength="76.4">TSAGPEDNQKRHWYFLMIVC</text><path class="br" d="M-3.2 77.9h2M-3.2 81.7h6"/></g></g>
<g transform="translate(899.6)"><g id="D79"><circle class="w" cy="22.7" r="8.8"/><text class="n" y="25.8">79</text></g><g id="I79"><path class="w" d="M0 42.2 11.5 52.7 0 63.2-11.5 52.7Z"/><text class="n" y="55.8">1</text></g><g id="M79"><rect class="w" x="-8" y="75.3" width="16" height="78"/><text class="aa" x="-5.8" y="76.2" textLength="76.4">TSAGPEDNQKRHWYFLMIVC</text><path class="br" d="M-3.2 135.2h6M-3.2 142.8h2"/></g></g>
<g transform="translate(936.8)"><g id="D80"><circle class="w" cy="22.7" r="8.8"/><text class="n" y="25.8">80</text></g><g id="I80"><path class="w" d="M0 42.2 11.5 52.7 0 63.2-11.5 52.7Z"/><text class="n" y="55.8">1</text></g><g id="M80"><rect class="w" x="-8" y="75.3" width="16" height="78"/><text class="aa" x="-5.8" y="76.2" textLength="76.4">TSAGPEDNQKRHWYFLMIVC</text><path class="br" d="M-3.2 93.2h2M-3.2 108.5h3"/></g></g>
<g transform="translate(974)"><g id="D81"><circle class="w" cy="22.7" r="8.8"/><text class="n" y="25.8">81</text></g><g id="I81"><path class="w" d="M0 42.2 11.5 52.7 0 63.2-11.5 52.7Z"/><text class="n" y="55.8">1</text></g><g id="M81"><rect class="w" x="-8" y="75.3" width="16" height="78"/><text class="aa" x="-5.8" y="76.2" textLength="76.4">TSAGPEDNQKRHWYFLMIVC</text><path class="br" d="M-3.2 97h2M-3.2 100.8h2M-3.2 108.5h3"/></g></g>
<g transform="translate(1011.2)"><g id="D82"><circle class="w" cy="22.7" r="8.8"/><text class="n" y="25.8">82</text></g><g id="I82"><path class="w" d="M0 42.2 11.5 52.7 0 63.2-11.5 52.7Z"/><text class="n" y="55.8">1</text></g><g id="M82"><rect class="w" x="-8" y="75.3" width="16" height="78"/><text class="aa" x="-5.8" y="76.2" textLength="76.4">TSAGPEDNQKRHWYFLMIVC</text><path class="br" d="M-3.2 135.2h8.6"/></g></g>
<g transform="translate(1048.4)"><g id="D83"><circle class="w" cy="22.7" r="8.8"/><text class="n" y="25.8">83</text></g><g id="I83"><path class="w" d="M0 42.2 11.5 52.7 0 63.2-11.5 52.7Z"/><text class="n" y="55.8">1</text></g><g id="M83"><rect class="w" x="-8" y="75.3" width="16" height="78"/><text class="aa" x="-5.8" y="76.2" textLength="76.4">TSAGPEDNQKRHWYFLMIVC</text><path class="br" d="M-3.2 142.8h2M-3.2 146.7h5"/></g></g>
<g class="fade" transform="translate(1085.6)"><g id="D84a"><circle class="w" cy="22.7" r="8.8"/></g><g id="I84a"><path class="w" d="M0 42.2 11.5 52.7 0 63.2-11.5 52.7Z"/></g><g id="M84a"><rect class="w" x="-8" y="75.3" width="16" height="78"/></g></g>
</g>
<g id="row4" transform="translate(0,508.5)">
<g transform="translate(44)"><g id="D84"><circle class="w" cy="22.7" r="8.8"/><text class="n" y="25.8">84</text></g><g id="I84"><path class="w" d="M0 42.2 11.5 52.7 0 63.2-11.5 52.7Z"/><text class="n" y="55.8">1</text></g><g id="M84"><rect class="w" x="-8" y="75.3" width="16" height="78"/><text class="aa" x="-5.8" y="76.2" textLength="76.4">TSAGPEDNQKRHWYFLMIVC</text><path class="br" d="M-3.2 97h1"/></g></g>
<g transform="translate(81.2)"><g id="D85"><circle class="w" cy="22.7" r="8.8"/><text class="n" y="25.8">85</text></g><g id="I85"><path class="w" d="M0 42.2 11.5 52.7 0 63.2-11.5 52.7Z"/><text class="n" y="55.8">1</text></g><g id="M85"><rect class="w" x="-8" y="75.3" width="16" height="78"/><text class="aa" x="-5.8" y="76.2" textLength="76.4">TSAGPEDNQKRHWYFLMIVC</text><path class="br" d="M-3.2 119.9h6.7M-3.2 127.6h2"/></g></g>
<g transform="translate(118.4)"><g id="D86"><circle class="w" cy="22.7" r="8.8"/><text class="n" y="25.8">86</text></g><g id="I86"><path class="w" d="M0 42.2 11.5 52.7 0 63.2-11.5 52.7Z"/><text class="n" y="55.8">2</text></g><g id="M86"><rect class="w" x="-8" y="75.3" width="16" height="78"/><text class="aa" x="-5.8" y="76.2" textLength="76.4">TSAGPEDNQKRHWYFLMIVC</text><path class="br" d="M-3.2 119.9h1M-3.2 127.6h7.3"/></g></g>
<g transform="translate(155.6)"><g id="D87"><circle class="w" cy="22.7" r="8.8"/><text class="n" y="25.8">87</text></g><g id="I87"><path class="w" d="M0 42.2 11.5 52.7 0 63.2-11.5 52.7Z"/><text class="n" y="55.8">2</text></g><g id="M87"><rect class="w" x="-8" y="75.3" width="16" height="78"/><text class="aa" x="-5.8" y="76.2" textLength="76.4">TSAGPEDNQKRHWYFLMIVC</text><path class="br" d="M-3.2 81.7h2"/></g></g>
<g transform="translate(192.8)"><g id="D88"><circle class="w" cy="22.7" r="8.8"/><text class="n" y="25.8">88</text></g><g id="I88"><path class="w" d="M0 42.2 11.5 52.7 0 63.2-11.5 52.7Z"/><text class="n" y="55.8">2</text></g><g id="M88"><rect class="w" x="-8" y="75.3" width="16" height="78"/><text class="aa" x="-5.8" y="76.2" textLength="76.4">TSAGPEDNQKRHWYFLMIVC</text><path class="br" d="M-3.2 112.3h3"/></g></g>
<g transform="translate(230)"><g id="D89"><circle class="w" cy="22.7" r="8.8"/><text class="n" y="25.8">89</text></g><g id="I89"><path class="w" d="M0 42.2 11.5 52.7 0 63.2-11.5 52.7Z"/><text class="n" y="55.8">2</text></g><g id="M89"><rect class="w" x="-8" y="75.3" width="16" height="78"/><text class="aa" x="-5.8" y="76.2" textLength="76.4">TSAGPEDNQKRHWYFLMIVC</text><path class="br" d="M-3.2 119.9h2"/></g></g>
<g transform="translate(267.2)"><g id="D90"><circle class="g" cy="22.7" r="8.8"/><text class="n" y="25.8">90</text></g><g id="I90"><path class="g" d="M0 42.2 11.5 52.7 0 63.2-11.5 52.7Z"/><text class="n" y="55.8">2</text></g><g id="M90"><rect class="g" x="-8" y="75.3" width="16" height="78"/><text class="aa" x="-5.8" y="76.2" textLength="76.4">TSAGPEDNQKRHWYFLMIVC</text><path class="br" d="M-3.2 81.7h2M-3.2 85.5h3"/></g></g>
<g transform="translate(304.4)"><g id="D91"><circle class="g" cy="22.7" r="8.8"/><text class="n" y="25.8">91</text></g><g id="I91"><path class="g" d="M0 42.2 11.5 52.7 0 63.2-11.5 52.7Z"/><text class="n" y="55.8">5</text></g><g id="M91"><rect class="g" x="-8" y="75.3" width="16" height="78"/><text class="aa" x="-5.8" y="76.2" textLength="76.4">TSAGPEDNQKRHWYFLMIVC</text><path class="br" d="M-3.2 100.8h5.6"/></g></g>
<g transform="translate(341.6)"><g id="D92"><circle class="g" cy="22.7" r="8.8"/><text class="n" y="25.8">92</text></g><g id="I92"><path class="g" d="M0 42.2 11.5 52.7 0 63.2-11.5 52.7Z"/><text class="n" y="55.8">2</text></g><g id="M92"><rect class="g" x="-8" y="75.3" width="16" height="78"/><text class="aa" x="-5.8" y="76.2" textLength="76.4">TSAGPEDNQKRHWYFLMIVC</text><path class="br" d="M-3.2 89.4h8.4"/></g></g>
<g transform="translate(378.8)"><g id="D93"><circle class="g" cy="22.7" r="8.8"/><text class="n" y="25.8">93</text></g><g id="I93"><path class="g" d="M0 42.2 11.5 52.7 0 63.2-11.5 52.7Z"/><text class="n" y="55.8">2</text></g><g id="M93"><rect class="g" x="-8" y="75.3" width="16" height="78"/><text class="aa" x="-5.8" y="76.2" textLength="76.4">TSAGPEDNQKRHWYFLMIVC</text><path class="br" d="M-3.2 135.2h8.4"/></g></g>
<g transform="translate(416)"><g id="D94"><circle class="g" cy="22.7" r="8.8"/><text class="n" y="25.8">94</text></g><g id="I94"><path class="g" d="M0 42.2 11.5 52.7 0 63.2-11.5 52.7Z"/><text class="n" y="55.8">1</text></g><g id="M94"><rect class="g" x="-8" y="75.3" width="16" height="78"/><text class="aa" x="-5.8" y="76.2" textLength="76.4">TSAGPEDNQKRHWYFLMIVC</text><path class="br" d="M-3.2 119.9h2M-3.2 150.5h5.6"/></g></g>
<g transform="translate(453.2)"><g id="D95"><circle class="g" cy="22.7" r="8.8"/><text class="n" y="25.8">95</text></g><g id="I95"><path class="g" d="M0 42.2 11.5 52.7 0 63.2-11.5 52.7Z"/><text class="n" y="55.8">2</text></g><g id="M95"><rect class="g" x="-8" y="75.3" width="16" height="78"/><text class="aa" x="-5.8" y="76.2" textLength="76.4">TSAGPEDNQKRHWYFLMIVC</text><path class="br" d="M-3.2 119.9h2"/></g></g>
<g transform="translate(490.4)"><g id="D96"><circle class="g" cy="22.7" r="8.8"/><text class="n" y="25.8">96</text></g><g id="I96"><path class="g" d="M0 42.2 11.5 52.7 0 63.2-11.5 52.7Z"/><text class="n" y="55.8">2</text></g><g id="M96"><rect class="g" x="-8" y="75.3" width="16" height="78"/><text class="aa" x="-5.8" y="76.2" textLength="76.4">TSAGPEDNQKRHWYFLMIVC</text><path class="br" d="M-3.2 112.3h3M-3.2 116.1h4"/></g></g>
<g transform="translate(527.6)"><g id="D97"><circle class="g" cy="22.7" r="8.8"/><text class="n" y="25.8">97</text></g><g id="I97"><path class="g" d="M0 42.2 11.5 52.7 0 63.2-11.5 52.7Z"/><text class="n" y="55.8">1</text></g><g id="M97"><rect class="g" x="-8" y="75.3" width="16" height="78"/><text class="aa" x="-5.8" y="76.2" textLength="76.4">TSAGPEDNQKRHWYFLMIVC</text><path class="br" d="M-3.2 135.2h9.5"/></g></g>
<g transform="translate(564.8)"><g id="D98"><circle class="g" cy="22.7" r="8.8"/><text class="n" y="25.8">98</text></g><g id="I98"><path class="g" d="M0 42.2 11.5 52.7 0 63.2-11.5 52.7Z"/><text class="n" y="55.8">2</text></g><g id="M98"><rect class="g" x="-8" y="75.3" width="16" height="78"/><text class="aa" x="-5.8" y="76.2" textLength="76.4">TSAGPEDNQKRHWYFLMIVC</text><path class="br" d="M-3.2 77.9h3M-3.2 81.7h2"/></g></g>
<g transform="translate(602)"><g id="D99"><circle class="w" cy="22.7" r="8.8"/><text class="n" y="25.8">99</text></g><g id="I99"><path class="w" d="M0 42.2 11.5 52.7 0 63.2-11.5 52.7Z"/><text class="n" y="55.8">1</text></g><g id="M99"><rect class="w" x="-8" y="75.3" width="16" height="78"/><text class="aa" x="-5.8" y="76.2" textLength="76.4">TSAGPEDNQKRHWYFLMIVC</text><path class="br" d="M-3.2 127.6h2"/></g></g>
<g transform="translate(639.2)"><g id="D100"><circle class="w" cy="22.7" r="8.8"/><text class="n" y="25.8">100</text></g><g id="I100"><path class="w" d="M0 42.2 11.5 52.7 0 63.2-11.5 52.7Z"/><text class="n" y="55.8">2</text></g><g id="M100"><rect class="w" x="-8" y="75.3" width="16" height="78"/><text class="aa" x="-5.8" y="76.2" textLength="76.4">TSAGPEDNQKRHWYFLMIVC</text><path class="br" d="M-3.2 93.2h3.5M-3.2 146.7h3.5"/></g></g>
<g transform="translate(676.4)"><g id="D101"><circle class="w" cy="22.7" r="8.8"/><text class="n" y="25.8">101</text></g><g id="I101"><path class="w" d="M0 42.2 11.5 52.7 0 63.2-11.5 52.7Z"/><text class="n" y="55.8">1</text></g><g id="M101"><rect class="w" x="-8" y="75.3" width="16" height="78"/><text class="aa" x="-5.8" y="76.2" textLength="76.4">TSAGPEDNQKRHWYFLMIVC</text><path class="br" d="M-3.2 142.8h2M-3.2 150.5h5.6"/></g></g>
<g transform="translate(713.6)"><g id="D102"><circle class="g" cy="22.7" r="8.8"/><text class="n" y="25.8">102</text></g><g id="I102"><path class="g" d="M0 42.2 11.5 52.7 0 63.2-11.5 52.7Z"/><text class="n" y="55.8">2</text></g><g id="M102"><rect class="g" x="-8" y="75.3" width="16" height="78"/><text class="aa" x="-5.8" y="76.2" textLength="76.4">TSAGPEDNQKRHWYFLMIVC</text><path class="br" d="M-3.2 93.2h3"/></g></g>
<g transform="translate(750.8)"><g id="D103"><circle class="g" cy="22.7" r="8.8"/><text class="n" y="25.8">103</text></g><g id="I103"><path class="g" d="M0 42.2 11.5 52.7 0 63.2-11.5 52.7Z"/><text class="n" y="55.8">2</text></g><g id="M103"><rect class="g" x="-8" y="75.3" width="16" height="78"/><text class="aa" x="-5.8" y="76.2" textLength="76.4">TSAGPEDNQKRHWYFLMIVC</text><path class="br" d="M-3.2 112.3h2"/></g></g>
<g transform="translate(788)"><g id="D104"><circle class="g" cy="22.7" r="8.8"/><text class="n" y="25.8">104</text></g><g id="I104"><path class="g" d="M0 42.2 11.5 52.7 0 63.2-11.5 52.7Z"/><text class="n" y="55.8">2</text></g><g id="M104"><rect class="g" x="-8" y="75.3" width="16" height="78"/><text class="aa" x="-5.8" y="76.2" textLength="76.4">TSAGPEDNQKRHWYFLMIVC</text><path class="br" d="M-3.2 93.2h2"/></g></g>
<g transform="translate(825.2)"><g id="D105"><circle class="g" cy="22.7" r="8.8"/><text class="n" y="25.8">105</text></g><g id="I105"><path class="g" d="M0 42.2 11.5 52.7 0 63.2-11.5 52.7Z"/><text class="n" y="55.8">2</text></g><g id="M105"><rect class="g" x="-8" y="75.3" width="16" height="78"/><text class="aa" x="-5.8" y="76.2" textLength="76.4">TSAGPEDNQKRHWYFLMIVC</text><path class="br" d="M-3.2 112.3h3"/></g></g>
<g transform="translate(862.4)"><g id="D106"><circle class="g" cy="22.7" r="8.8"/><text class="n" y="25.8">106</text></g><g id="I106"><path class="g" d="M0 42.2 11.5 52.7 0 63.2-11.5 52.7Z"/><text class="n" y="55.8">3</text></g><g id="M106"><rect class="g" x="-8" y="75.3" width="16" height="78"/><text class="aa" x="-5.8" y="76.2" textLength="76.4">TSAGPEDNQKRHWYFLMIVC</text><path class="br" d="M-3.2 93.2h4"/></g></g>
<g transform="translate(899.6)"><g id="D107"><circle class="g" cy="22.7" r="8.8"/><text class="n" y="25.8">107</text></g><g id="I107"><path class="g" d="M0 42.2 11.5 52.7 0 63.2-11.5 52.7Z"/><text class="n" y="55.8">2</text></g><g id="M107"><rect class="g" x="-8" y="75.3" width="16" height="78"/><text class="aa" x="-5.8" y="76.2" textLength="76.4">TSAGPEDNQKRHWYFLMIVC</text><path class="br" d="M-3.2 108.5h5"/></g></g>
<g transform="translate(936.8)"><g id="D108"><circle class="g" cy="22.7" r="8.8"/><text class="n" y="25.8">108</text></g><g id="I108"><path class="g" d="M0 42.2 11.5 52.7 0 63.2-11.5 52.7Z"/><text class="n" y="55.8">2</text></g><g id="M108"><rect class="g" x="-8" y="75.3" width="16" height="78"/><text class="aa" x="-5.8" y="76.2" textLength="76.4">TSAGPEDNQKRHWYFLMIVC</text><path class="br" d="M-3.2 77.9h5.7M-3.2 97h2"/></g></g>
<g transform="translate(974)"><g id="D109"><circle class="g" cy="22.7" r="8.8"/><text class="n" y="25.8">109</text></g><g id="I109"><path class="g" d="M0 42.2 11.5 52.7 0 63.2-11.5 52.7Z"/><text class="n" y="55.8">2</text></g><g id="M109"><rect class="g" x="-8" y="75.3" width="16" height="78"/><text class="aa" x="-5.8" y="76.2" textLength="76.4">TSAGPEDNQKRHWYFLMIVC</text><path class="br" d="M-3.2 93.2h1M-3.2 108.5h3"/></g></g>
<g transform="translate(1011.2)"><g id="D110"><circle class="g" cy="22.7" r="8.8"/><text class="n" y="25.8">110</text></g><g id="I110"><path class="g" d="M0 42.2 11.5 52.7 0 63.2-11.5 52.7Z"/><text class="n" y="55.8">329</text></g><g id="M110"><rect class="g" x="-8" y="75.3" width="16" height="78"/><text class="aa" x="-5.8" y="76.2" textLength="76.4">TSAGPEDNQKRHWYFLMIVC</text></g></g>
<g id="END"><rect class="g" x="1039.3" y="44.2" width="16.7" height="16.3"/><text class="lb" x="1047.6" y="58" textLength="15.4" lengthAdjust="spacingAndGlyphs">END</text></g>
</g>
<g id="zoomrow" transform="translate(-57.7,660.6) scale(2.046)">
<g id="zBEGIN"><rect class="g" x="35.8" y="105.3" width="16.6" height="17.4"/><text class="lb" x="44.1" y="119" textLength="15.2" lengthAdjust="spacingAndGlyphs">BEGIN</text></g>
<g id="zI0"><path class="g" d="M43.5 42.2 55 52.7 43.5 63.2 32 52.7Z"/><text class="n" x="43.5" y="55.8">221</text></g>
<g transform="translate(81.5)"><g id="zD1"><circle class="g" cy="22.7" r="8.8"/><text class="n" y="25.8">1</text></g><g id="zI1"><path class="g" d="M0 42.2 11.5 52.7 0 63.2-11.5 52.7Z"/><text class="n" y="55.8">2</text></g><g id="zM1"><rect class="g" x="-8" y="75.3" width="16" height="78"/><text class="aa" x="-5.8" y="76.2" textLength="76.4">TSAGPEDNQKRHWYFLMIVC</text><path class="br" d="M-3.2 77.9h.9M-3.2 81.7h.9M-3.2 85.5h3.3M-3.2 89.4h.5M-3.2 93.2h.5M-3.2 97h.7M-3.2 100.8h.5M-3.2 104.6h.5M-3.2 108.5h.5M-3.2 112.3h.9M-3.2 116.1h.5M-3.2 135.2h.5M-3.2 139h.5M-3.2 146.7h.5"/></g></g>
<g transform="translate(118.7)"><g id="zD2"><circle class="g" cy="22.7" r="8.8"/><text class="n" y="25.8">2</text></g><g id="zI2"><path class="g" d="M0 42.2 11.5 52.7 0 63.2-11.5 52.7Z"/><text class="n" y="55.8">2</text></g><g id="zM2"><rect class="g" x="-8" y="75.3" width="16" height="78"/><text class="aa" x="-5.8" y="76.2" textLength="76.4">TSAGPEDNQKRHWYFLMIVC</text><path class="br" d="M-3.2 85.5h.5M-3.2 97h6.5M-3.2 104.6h.5M-3.2 108.5h.9M-3.2 119.9h.9M-3.2 127.6h.9M-3.2 139h.5"/></g></g>
<g transform="translate(155.9)"><g id="zD3"><circle class="g" cy="22.7" r="8.8"/><text class="n" y="25.8">3</text></g><g id="zI3"><path class="g" d="M0 42.2 11.5 52.7 0 63.2-11.5 52.7Z"/><text class="n" y="55.8">2</text></g><g id="zM3"><rect class="g" x="-8" y="75.3" width="16" height="78"/><text class="aa" x="-5.8" y="76.2" textLength="76.4">TSAGPEDNQKRHWYFLMIVC</text><path class="br" d="M-3.2 77.9h.5M-3.2 81.7h.9M-3.2 85.5h.5M-3.2 89.4h.5M-3.2 93.2h.9M-3.2 97h4.6M-3.2 100.8h.5M-3.2 104.6h.5M-3.2 108.5h.5M-3.2 112.3h.9M-3.2 116.1h.9M-3.2 135.2h.9M-3.2 139h.5M-3.2 146.7h.5"/></g></g>
<g transform="translate(193.1)"><g id="zD4"><circle class="w" cy="22.7" r="8.8"/><text class="n" y="25.8">4</text></g><g id="zI4"><path class="w" d="M0 42.2 11.5 52.7 0 63.2-11.5 52.7Z"/><text class="n" y="55.8">2</text></g><g id="zM4"><rect class="w" x="-8" y="75.3" width="16" height="78"/><text class="aa" x="-5.8" y="76.2" textLength="76.4">TSAGPEDNQKRHWYFLMIVC</text><path class="br" d="M-3.2 123.7h9.8M-3.2 127.6h.5"/></g></g>
<g transform="translate(230.3)"><g id="zD5"><circle class="w" cy="22.7" r="8.8"/><text class="n" y="25.8">5</text></g><g id="zI5"><path class="w" d="M0 42.2 11.5 52.7 0 63.2-11.5 52.7Z"/><text class="n" y="55.8">2</text></g><g id="zM5"><rect class="w" x="-8" y="75.3" width="16" height="78"/><text class="aa" x="-5.8" y="76.2" textLength="76.4">TSAGPEDNQKRHWYFLMIVC</text><path class="br" d="M-3.2 127.6h7.3M-3.2 131.4h2.8"/></g></g>
<g transform="translate(267.5)"><g id="zD6"><circle class="w" cy="22.7" r="8.8"/><text class="n" y="25.8">6</text></g><g id="zI6"><path class="w" d="M0 42.2 11.5 52.7 0 63.2-11.5 52.7Z"/><text class="n" y="55.8">1</text></g><g id="zM6"><rect class="w" x="-8" y="75.3" width="16" height="78"/><text class="aa" x="-5.8" y="76.2" textLength="76.4">TSAGPEDNQKRHWYFLMIVC</text><path class="br" d="M-3.2 81.7h.5M-3.2 85.5h.5M-3.2 104.6h.5M-3.2 119.9h3.6M-3.2 123.7h.5M-3.2 131.4h4M-3.2 135.2h.5"/></g></g>
<g transform="translate(304.7)"><g id="zD7"><circle class="g" cy="22.7" r="8.8"/><text class="n" y="25.8">7</text></g><g id="zI7"><path class="g" d="M0 42.2 11.5 52.7 0 63.2-11.5 52.7Z"/><text class="n" y="55.8">1</text></g><g id="zM7"><rect class="g" x="-8" y="75.3" width="16" height="78"/><text class="aa" x="-5.8" y="76.2" textLength="76.4">TSAGPEDNQKRHWYFLMIVC</text><path class="br" d="M-3.2 89.4h8.1M-3.2 97h.5M-3.2 112.3h.9M-3.2 116.1h.5"/></g></g>
<g transform="translate(341.9)"><g id="zD8"><circle class="g" cy="22.7" r="8.8"/><text class="n" y="25.8">8</text></g><g id="zI8"><path class="g" d="M0 42.2 11.5 52.7 0 63.2-11.5 52.7Z"/><text class="n" y="55.8">1</text></g><g id="zM8"><rect class="g" x="-8" y="75.3" width="16" height="78"/><text class="aa" x="-5.8" y="76.2" textLength="76.4">TSAGPEDNQKRHWYFLMIVC</text><path class="br" d="M-3.2 77.9h.5M-3.2 81.7h.5M-3.2 85.5h.9M-3.2 89.4h.5M-3.2 93.2h.9M-3.2 97h.5M-3.2 100.8h.9M-3.2 104.6h.9M-3.2 112.3h4.6M-3.2 116.1h.5M-3.2 119.9h.9M-3.2 127.6h.5M-3.2 135.2h.5M-3.2 139h.9M-3.2 146.7h.5"/></g></g>
<g transform="translate(379.1)"><g id="zD9"><circle class="g" cy="22.7" r="8.8"/><text class="n" y="25.8">9</text></g><g id="zI9"><path class="g" d="M0 42.2 11.5 52.7 0 63.2-11.5 52.7Z"/><text class="n" y="55.8">3</text></g><g id="zM9"><rect class="g" x="-8" y="75.3" width="16" height="78"/><text class="aa" x="-5.8" y="76.2" textLength="76.4">TSAGPEDNQKRHWYFLMIVC</text><path class="br" d="M-3.2 77.9h.5M-3.2 97h.5M-3.2 131.4h.5M-3.2 135.2h1.5M-3.2 139h1M-3.2 142.8h4.5M-3.2 146.7h.9"/></g></g>
<g transform="translate(416.3)"><g id="zD10"><circle class="w" cy="22.7" r="8.8"/><text class="n" y="25.8">10</text></g><g id="zI10"><path class="w" d="M0 42.2 11.5 52.7 0 63.2-11.5 52.7Z"/><text class="n" y="55.8">3</text></g><g id="zM10"><rect class="w" x="-8" y="75.3" width="16" height="78"/><text class="aa" x="-5.8" y="76.2" textLength="76.4">TSAGPEDNQKRHWYFLMIVC</text><path class="br" d="M-3.2 77.9h2.4M-3.2 81.7h3.6M-3.2 89.4h1.3M-3.2 93.2h1M-3.2 97h.5M-3.2 100.8h.5M-3.2 104.6h.5M-3.2 108.5h.5M-3.2 112.3h.5M-3.2 123.7h.5M-3.2 135.2h.5M-3.2 146.7h.5"/></g></g>
<g transform="translate(453.5)"><g id="zD11"><circle class="w" cy="22.7" r="8.8"/><text class="n" y="25.8">11</text></g><g id="zI11"><path class="w" d="M0 42.2 11.5 52.7 0 63.2-11.5 52.7Z"/><text class="n" y="55.8">2</text></g><g id="zM11"><rect class="w" x="-8" y="75.3" width="16" height="78"/><text class="aa" x="-5.8" y="76.2" textLength="76.4">TSAGPEDNQKRHWYFLMIVC</text><path class="br" d="M-3.2 81.7h.5M-3.2 85.5h.5M-3.2 89.4h.5M-3.2 116.1h9M-3.2 123.7h.5"/></g></g>
<g transform="translate(490.7)"><g id="zD12"><circle class="w" cy="22.7" r="8.8"/><text class="n" y="25.8">12</text></g><g id="zI12"><path class="w" d="M0 42.2 11.5 52.7 0 63.2-11.5 52.7Z"/><text class="n" y="55.8">2</text></g><g id="zM12"><rect class="w" x="-8" y="75.3" width="16" height="78"/><text class="aa" x="-5.8" y="76.2" textLength="76.4">TSAGPEDNQKRHWYFLMIVC</text><path class="br" d="M-3.2 77.9h.9M-3.2 81.7h.9M-3.2 85.5h.9M-3.2 89.4h.5M-3.2 97h.9M-3.2 104.6h.9M-3.2 108.5h.5M-3.2 112.3h3M-3.2 116.1h1.3M-3.2 119.9h.8M-3.2 135.2h.5M-3.2 139h.5M-3.2 146.7h.5"/></g></g>
<g transform="translate(527.9)"><g id="zD13"><circle class="w" cy="22.7" r="8.8"/><text class="n" y="25.8">13</text></g><g id="zI13"><path class="w" d="M0 42.2 11.5 52.7 0 63.2-11.5 52.7Z"/><text class="n" y="55.8">2</text></g><g id="zM13"><rect class="w" x="-8" y="75.3" width="16" height="78"/><text class="aa" x="-5.8" y="76.2" textLength="76.4">TSAGPEDNQKRHWYFLMIVC</text><path class="br" d="M-3.2 81.7h.5M-3.2 85.5h.9M-3.2 89.4h.5M-3.2 97h3.8M-3.2 100.8h3M-3.2 108.5h.9M-3.2 112.3h.5M-3.2 116.1h.5M-3.2 135.2h.5M-3.2 142.8h.9"/></g></g>
</g>
</g>
<g id="connectors">
<g id="e-row1">
<path class="mm" d="M89.5 114.3h21.2m16 0h21.2m16 0h21.2m16 0h21.2m16 0h21.2m16 0h21.2m16 0h21.2m16 0h21.2m16 0h21.2m16 0h21.2m16 0h21.2m16 0h21.2m16 0h21.2m16 0h21.2m16 0h21.2m16 0h21.2m16 0h21.2m16 0h21.2m16 0m37.2 0h21.2m16 0h21.2m16 0h21.2m16 0m37.2 0h21.2m16 0h21.2m16 0h21.2m16 0h21.2"/>
<path class="mt" d="M759.1 114.3h21.2M907.9 114.3h21.2"/>
<path class="tk" d="M43.5 105.3V68.1" marker-end="url(#ah)"/>
<path class="tk" d="M48 59.5 73.5 100"/>
<path class="d" d="M51 45 75 29"/>
<path class="d" d="M81.5 63.2V75.3"/>
<path class="d" d="M86.5 58.6 110.7 99"/>
<path class="d" d="M118.7 63.2V75.3"/>
<path class="d" d="M123.7 58.6 147.9 99"/>
<path class="s" d="M163.9 93 189.6 31"/>
<path class="s" d="M201.9 22.7H221.5"/>
<path class="s" d="M239.1 22.7H258.7"/>
<path class="s" d="M276.3 22.7H295.9"/>
<path class="d" d="M275.5 93 301.2 31"/>
<path class="s" d="M308.2 31 333.9 93"/>
<path class="s" d="M379.1 63.2V75.3"/>
<path class="s" d="M384.1 58.6 408.3 99"/>
<path class="d" d="M416.3 63.2V75.3"/>
<path class="d" d="M421.3 58.6 445.5 99"/>
<path class="s" d="M751.1 63.2V75.3"/>
<path class="s" d="M756.1 58.6 780.3 99"/>
<path class="s" d="M759.1 93 784.8 31"/>
<path class="s" d="M797.1 22.7H816.7"/>
<path class="d" d="M791.8 31 817.5 93"/>
<path class="d" d="M793.3 58.6 817.5 99"/>
<path class="d" d="M829 31 854.7 93"/>
<path class="s" d="M833.5 93 859.2 31"/>
<path class="s" d="M871.5 22.7H891.1"/>
<path class="d" d="M866.2 31 891.9 93"/>
<path class="s" d="M870.7 93 896.4 31"/>
<path class="s" d="M903.4 31 929.1 93"/>
<path class="s" d="M907.9 93 933.6 31"/>
<path class="s" d="M945.9 22.7H965.5"/>
<path class="d" d="M945.1 93 970.8 31"/>
<path class="s" d="M977.8 31 1003.5 93"/>
</g>
<g id="e-row2" transform="translate(0,169.5)">
<path class="mm" d="M52 114.3h21.2m16 0h21.2m16 0h21.2m16 0h21.2m16 0h21.2m16 0m37.2 0h21.2m16 0h21.2m16 0h21.2m16 0h21.2m16 0h21.2m16 0h21.2m16 0h21.2m16 0h21.2m16 0h21.2m16 0h21.2m16 0h21.2m16 0m37.2 0m37.2 0h21.2m16 0h21.2m16 0m37.2 0m37.2 0h21.2m16 0h21.2m16 0h21.2m16 0h21.2m16 0h21.2"/>
<path class="mt" d="M238 114.3h21.2M684.4 114.3h21.2M721.6 114.3h21.2M833.2 114.3h21.2M870.4 114.3h21.2"/>
<path class="d" d="M238.8 22.7H258.4M276 22.7H295.6"/>
<path class="d" d="M200.8 93 226.5 31"/>
<path class="s" d="M238 93 263.7 31"/>
<path class="s" d="M270.7 31 296.4 93"/>
<path class="d" d="M307.9 31 333.6 93"/>
<path class="s" d="M378.8 63.2V75.3"/>
<path class="s" d="M383.8 58.6 408 99"/>
<path class="d" d="M453.2 63.2V75.3"/>
<path class="d" d="M458.2 58.6 482.4 99"/>
<path class="d" d="M639.2 63.2V75.3"/>
<path class="d" d="M644.2 58.6 668.4 99"/>
<path class="s" d="M684.4 93 710.1 31"/>
<path class="s" d="M722.4 22.7H742M759.6 22.7H779.2M796.8 22.7H816.4M834 22.7H853.6"/>
<path class="d" d="M717.1 31 742.8 93"/>
<path class="d" d="M825.2 63.2V75.3"/>
<path class="d" d="M830.2 58.6 854.4 99"/>
<path class="d" d="M828.7 31 854.4 93"/>
<path class="d" d="M833.2 93 858.9 31"/>
<path class="s" d="M865.9 31 891.6 93"/>
<path class="s" d="M870.4 93 896.1 31"/>
<path class="d" d="M908.4 22.7H928"/>
<path class="d" d="M903.1 31 928.8 93"/>
<path class="d" d="M936.8 63.2V75.3"/>
<path class="d" d="M941.8 58.6 966 99"/>
<path class="d" d="M940.3 31 966 93"/>
<path class="d" d="M1011.2 63.2V75.3"/>
<path class="d" d="M1016.2 58.6 1040.4 99"/>
<path class="d" d="M1019.2 93 1044.9 31"/>
<path class="d" d="M1051.9 31 1077.6 93"/>
</g>
<g id="e-row3" transform="translate(0,339)">
<path class="mm" d="M52 114.3h21.2m16 0h21.2m16 0h21.2m16 0h21.2m16 0h21.2m16 0h21.2m16 0h21.2m16 0h21.2m16 0h21.2m16 0h21.2m16 0h21.2m16 0h21.2m16 0h21.2m16 0h21.2m16 0h21.2m16 0h21.2m16 0h21.2m16 0m37.2 0m37.2 0h21.2m16 0h21.2m16 0h21.2m16 0h21.2m16 0h21.2m16 0h21.2m16 0h21.2m16 0h21.2m16 0h21.2"/>
<path class="mt" d="M684.4 114.3h21.2M721.6 114.3h21.2"/>
<path class="d" d="M81.2 63.2V75.3"/>
<path class="d" d="M86.2 58.6 110.4 99"/>
<path class="s" d="M192.8 63.2V75.3"/>
<path class="s" d="M197.8 58.6 222 99"/>
<path class="s" d="M238 93 263.7 31"/>
<path class="d" d="M276 22.7H295.6"/>
<path class="s" d="M270.7 31 296.4 93"/>
<path class="d" d="M304.4 63.2V75.3"/>
<path class="d" d="M309.4 58.6 333.6 99"/>
<path class="d" d="M307.9 31 333.6 93"/>
<path class="s" d="M349.6 93 375.3 31"/>
<path class="s" d="M382.3 31 408 93"/>
<path class="s" d="M386.8 93 412.5 31"/>
<path class="s" d="M424.8 22.7H444.4"/>
<path class="d" d="M419.5 31 445.2 93"/>
<path class="s" d="M453.2 63.2V75.3"/>
<path class="s" d="M458.2 58.6 482.4 99"/>
<path class="s" d="M456.7 31 482.4 93"/>
<path class="d" d="M684.4 93 710.1 31"/>
<path class="d" d="M717.1 31 742.8 93"/>
<path class="d" d="M713.6 63.2V75.3"/>
<path class="d" d="M718.6 58.6 742.8 99"/>
<path class="d" d="M721.6 93 747.3 31"/>
<path class="d" d="M754.3 31 780 93"/>
</g>
<g id="e-row4" transform="translate(0,508.5)">
<path class="mm" d="M52 114.3h21.2m16 0h21.2m16 0h21.2m16 0h21.2m16 0h21.2m16 0m37.2 0h21.2m16 0h21.2m16 0h21.2m16 0h21.2m16 0h21.2m16 0h21.2m16 0h21.2m16 0h21.2m16 0h21.2m16 0m37.2 0m37.2 0h21.2m16 0h21.2m16 0h21.2m16 0h21.2m16 0h21.2m16 0h21.2m16 0h21.2m16 0h21.2"/>
<path class="mt" d="M238 114.3h21.2M610 114.3h21.2M647.2 114.3h21.2"/>
<path class="d" d="M155.6 63.2V75.3"/>
<path class="d" d="M160.6 58.6 184.8 99"/>
<path class="s" d="M238 93 263.7 31"/>
<path class="s" d="M276 22.7H295.6" style="stroke-width:1.6;stroke:#666"/>
<path class="s" d="M304.4 63.2V75.3"/>
<path class="s" d="M309.4 58.6 333.6 99"/>
<path class="s" d="M307.9 31 333.6 93"/>
<path class="d" d="M312.4 93 338.1 31"/>
<path class="d" d="M313.2 22.7H332.8M350.4 22.7H370M387.6 22.7H407.2M424.8 22.7H444.4M462 22.7H481.6M499.2 22.7H518.8M536.4 22.7H556M573.6 22.7H593.2"/>
<path class="d" d="M341.6 63.2V75.3"/>
<path class="d" d="M345.1 31 370.8 93"/>
<path class="d" d="M382.3 31 408 93"/>
<path class="d" d="M416 63.2V75.3"/>
<path class="d" d="M421 58.6 445.2 99"/>
<path class="d" d="M453.2 63.2V75.3"/>
<path class="d" d="M458.2 58.6 482.4 99"/>
<path class="d" d="M564.8 63.2V75.3"/>
<path class="d" d="M569.8 58.6 594 99"/>
<path class="d" d="M602 63.2V75.3"/>
<path class="d" d="M607 58.6 631.2 99"/>
<path class="s" d="M610 93 635.7 31"/>
<path class="d" d="M648 22.7H667.6"/>
<path class="d" d="M642.7 31 668.4 93"/>
<path class="d" d="M676.4 63.2V75.3"/>
<path class="d" d="M681.4 58.6 705.6 99"/>
<path class="d" d="M679.9 31 705.6 93"/>
<path class="d" d="M713.6 63.2V75.3"/>
<path class="d" d="M718.6 58.6 742.8 99"/>
<path class="s" d="M758.8 93 784.5 31"/>
<path class="s" d="M791.5 31 817.2 93"/>
<path class="d" d="M796.8 22.7H816.4M834 22.7H853.6"/>
<path class="d" d="M867.4 58.6 891.6 99"/>
<path class="d" d="M899.6 63.2V75.3"/>
<path class="d" d="M904.6 58.6 928.8 99"/>
<path class="d" d="M974 63.2V75.3"/>
<path class="d" d="M982.8 22.7H1002.4"/>
<path class="tk" d="M982 95 1007.5 30"/>
<path class="d" d="M980 45 1003.5 28.5"/>
<path class="tk" d="M1011.2 31.5V38.6" marker-end="url(#ah)" style="stroke-width:2"/>
<path class="tk" d="M1022.7 52.7H1039.3"/>
<path class="d" d="M1018 28.5 1039.3 44.5"/>
</g>
<g id="e-zoomrow" transform="translate(-57.7,660.6) scale(2.046)">
<path class="mm" d="M89.5 114.3h21.2m16 0h21.2m16 0h21.2m16 0h21.2m16 0h21.2m16 0h21.2m16 0h21.2m16 0h21.2m16 0h21.2m16 0h21.2m16 0h21.2m16 0h21.2m16 0h30"/>
<path class="tk" d="M43.5 105.3V68.1" marker-end="url(#ah)"/>
<path class="tk" d="M48 59.5 73.5 100"/>
<path class="d" d="M51 45 75 29"/>
<path class="d" d="M81.5 63.2V75.3"/>
<path class="d" d="M86.5 58.6 110.7 99"/>
<path class="d" d="M118.7 63.2V75.3"/>
<path class="d" d="M123.7 58.6 147.9 99"/>
<path class="s" d="M163.9 93 189.6 31"/>
<path class="s" d="M201.9 22.7H221.5"/>
<path class="s" d="M239.1 22.7H258.7"/>
<path class="s" d="M276.3 22.7H295.9"/>
<path class="d" d="M275.5 93 301.2 31"/>
<path class="s" d="M308.2 31 333.9 93"/>
<path class="s" d="M379.1 63.2V75.3"/>
<path class="s" d="M384.1 58.6 408.3 99"/>
<path class="d" d="M416.3 63.2V75.3"/>
<path class="d" d="M421.3 58.6 445.5 99"/>
</g>
</g>
</svg>
